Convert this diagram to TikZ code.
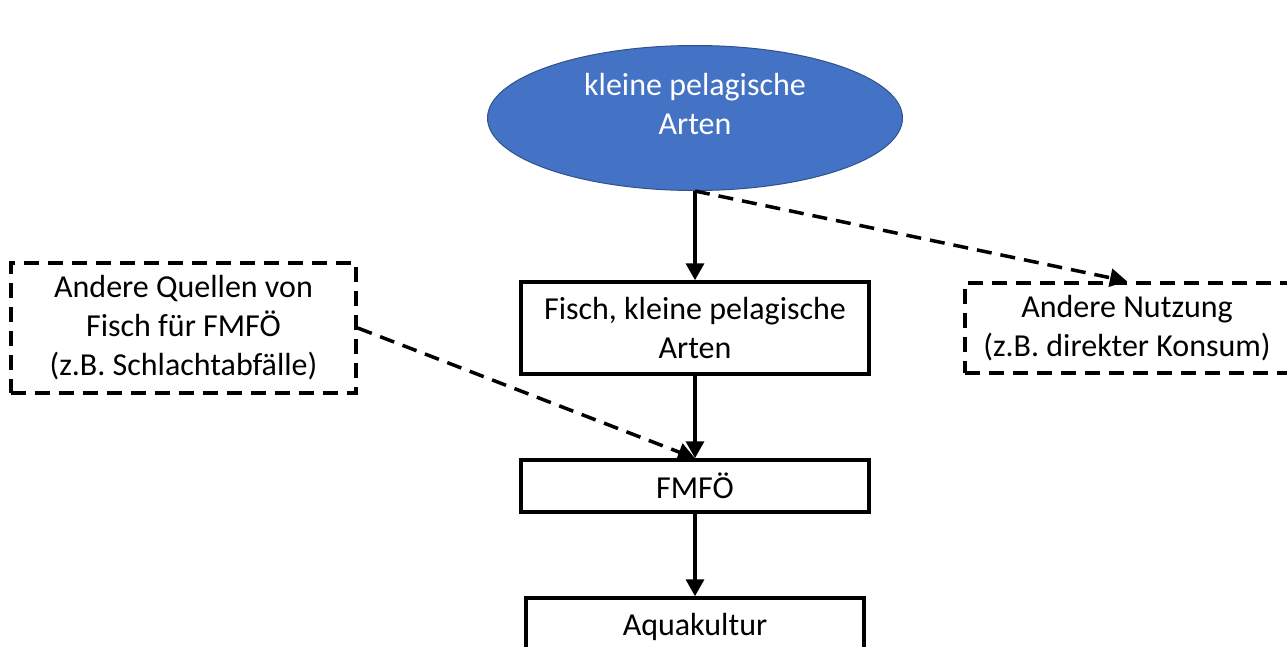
\documentclass[tikz,border=0pt]{standalone}
\usepackage{fontspec}
\setmainfont{Carlito}
\usetikzlibrary{shapes.geometric,arrows.meta}
\definecolor{ellfill}{HTML}{4472C4}
\definecolor{elldraw}{HTML}{2F528F}
\begin{document}
\begin{tikzpicture}[x=1pt,y=-1pt,
  txt/.style={align=center,font=\fontsize{32}{39}\selectfont},
  box/.style={txt,draw=black,line width=3.5pt,inner sep=0pt},
  dbox/.style={box,dash pattern=on 15pt off 9pt},
  arr/.style={line width=3.5pt,-{Triangle[length=17pt,width=18pt]}},
  darr/.style={arr,dash pattern=on 15pt off 9pt}]
\useasboundingbox (0,0) rectangle (1287,646);
\clip (0,0) rectangle (1287,646);
\node[ellipse,fill=ellfill,draw=elldraw,line width=1pt,minimum width=415pt,minimum height=145pt,inner sep=0pt] (e) at (695,118) {};
\node[txt,text=white] (et) at (695,104) {kleine pelagische\\Arten};
\node[box,minimum width=348pt,minimum height=92pt] (f) at (695,328) {Fisch, kleine pelagische\\Arten};
\node[box,minimum width=348pt,minimum height=52pt] (m) at (695,486) {FMFÖ};
\node[box,minimum width=338pt,minimum height=58pt] (a) at (695,627) {Aquakultur};
\node[dbox,minimum width=345pt,minimum height=130pt] (l) at (183.5,328) {Andere Quellen von\\Fisch für FMFÖ\\(z.B. Schlachtabfälle)};
\node[dbox,minimum width=324pt,minimum height=90pt] (r) at (1127,328) {Andere Nutzung\\(z.B. direkter Konsum)};
\draw[arr] (e.south) -- (f.north);
\draw[darr] (e.south) -- (r.north);
\draw[darr] (l.east) -- (m.north);
\draw[arr] (f.south) -- (m.north);
\draw[arr] (m.south) -- (a.north);
\end{tikzpicture}
\end{document}
